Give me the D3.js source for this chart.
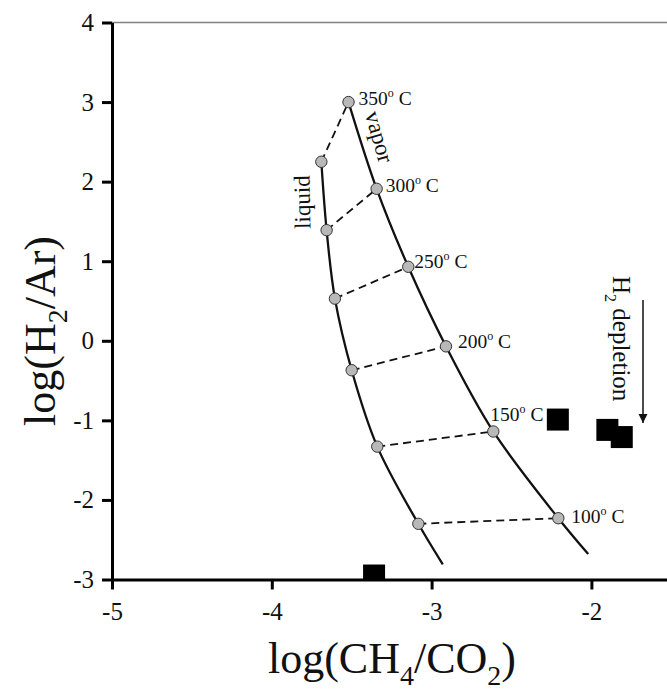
<!DOCTYPE html>
<html>
<head>
<meta charset="utf-8">
<script src="https://cdn.jsdelivr.net/npm/d3@7"></script>
<style>
  body { margin: 0; background: #fff; }
  svg text { font-family: "Liberation Serif", "DejaVu Serif", serif; fill: #111; }
</style>
</head>
<body>
<div class="chart"></div>
<script>
var svgWidth = 667;
var svgHeight = 691;

// liquid branch (log CH4/CO2, log H2/Ar)
var liquidX = [-3.69, -3.657, -3.605, -3.50, -3.34, -3.083, -2.93];
var liquidY = [2.25, 1.39, 0.53, -0.37, -1.33, -2.30, -2.81];
// vapor branch
var vaporX = [-3.52, -3.344, -3.146, -2.91, -2.614, -2.207, -2.02];
var vaporY = [3.0, 1.91, 0.93, -0.07, -1.14, -2.23, -2.68];
// temperatures for the 6 marked points on each branch
var temps = ["350", "300", "250", "200", "150", "100"];

// measured samples
var sampleX = [-2.21, -1.90, -1.81, -3.36];
var sampleY = [-0.99, -1.12, -1.21, -2.95];

var xTicks = [-5, -4, -3, -2];
var yTicks = [-3, -2, -1, 0, 1, 2, 3, 4];

var svg = d3.select(".chart")
  .append("svg")
  .attr("width", svgWidth)
  .attr("height", svgHeight);

var x = d3.scaleLinear().domain([-5, -1.5]).range([112, 671.3]);
var y = d3.scaleLinear().domain([-3, 4]).range([579.5, 22.5]);

// clip for plot area
svg.append("clipPath").attr("id", "plotclip")
  .append("rect")
  .attr("x", x(-5)).attr("y", y(4))
  .attr("width", x(-1.5) - x(-5)).attr("height", y(-3) - y(4));

// top frame line
svg.append("line")
  .attr("x1", x(-5)).attr("x2", x(-1.5))
  .attr("y1", y(4)).attr("y2", y(4))
  .attr("stroke", "#808080")
  .attr("stroke-width", 1.6);

var plot = svg.append("g").attr("clip-path", "url(#plotclip)");

var liquid = liquidX.map((d, i) => [d, liquidY[i]]);
var vapor = vaporX.map((d, i) => [d, vaporY[i]]);

var line = d3.line()
  .x(d => x(d[0]))
  .y(d => y(d[1]))
  .curve(d3.curveCatmullRom);

// dashed tie lines between coexisting phases
temps.forEach(function(t, i) {
  plot.append("line")
    .attr("x1", x(liquid[i][0])).attr("y1", y(liquid[i][1]))
    .attr("x2", x(vapor[i][0])).attr("y2", y(vapor[i][1]))
    .attr("stroke", "#111")
    .attr("stroke-width", 1.8)
    .attr("stroke-dasharray", "8,5");
});

plot.append("path").datum(liquid)
  .attr("d", line)
  .attr("fill", "none")
  .attr("stroke", "#111")
  .attr("stroke-width", 2.3);

plot.append("path").datum(vapor)
  .attr("d", line)
  .attr("fill", "none")
  .attr("stroke", "#111")
  .attr("stroke-width", 2.3);

// markers (only the 6 temperature points)
var marks = liquid.slice(0, 6).concat(vapor.slice(0, 6));
plot.selectAll("circle.pt")
  .data(marks)
  .enter()
  .append("circle")
  .attr("class", "pt")
  .attr("cx", d => x(d[0]))
  .attr("cy", d => y(d[1]))
  .attr("r", 5.7)
  .attr("fill", "#b8b8b8")
  .attr("stroke", "#333")
  .attr("stroke-width", 1);

// sample squares
var sq = 22;
plot.selectAll("rect.sample")
  .data(sampleX.map((d, i) => [d, sampleY[i]]))
  .enter()
  .append("rect")
  .attr("class", "sample")
  .attr("x", d => x(d[0]) - sq / 2)
  .attr("y", d => y(d[1]) - sq / 2)
  .attr("width", sq)
  .attr("height", sq)
  .attr("fill", "#000");

// temperature labels, offsets relative to the vapor point
var labelOffsets = [[10, 3], [9, 3], [6, 1], [12, 2], [-3, -10], [13, 5]];
temps.forEach(function(t, i) {
  var tx = svg.append("text")
    .attr("x", x(vapor[i][0]) + labelOffsets[i][0])
    .attr("y", y(vapor[i][1]) + labelOffsets[i][1])
    .attr("font-size", 19.5);
  tx.append("tspan").text(t);
  tx.append("tspan").attr("font-size", 12).attr("dy", -8).text("o");
  tx.append("tspan").attr("dy", 8).text(" C");
});

// branch names
svg.append("text")
  .attr("transform", "translate(310,202) rotate(-91)")
  .attr("text-anchor", "middle")
  .attr("font-size", 23)
  .text("liquid");

svg.append("text")
  .attr("transform", "translate(372,139) rotate(74)")
  .attr("text-anchor", "middle")
  .attr("font-size", 23)
  .text("vapor");

// H2 depletion annotation
var dep = svg.append("text")
  .attr("transform", "translate(613,276) rotate(90)")
  .attr("font-size", 25);
dep.append("tspan").text("H");
dep.append("tspan").attr("font-size", 16).attr("dy", 8).text("2");
dep.append("tspan").attr("dy", -8).text(" depletion");

svg.append("defs").append("marker")
  .attr("id", "arrow")
  .attr("viewBox", "0 0 10 10")
  .attr("refX", 10).attr("refY", 5)
  .attr("markerUnits", "userSpaceOnUse")
  .attr("markerWidth", 9).attr("markerHeight", 16)
  .attr("orient", "auto")
  .append("path")
  .attr("d", "M0,0 L10,5 L0,10 Z")
  .attr("fill", "#111");

svg.append("line")
  .attr("x1", 643).attr("y1", 300)
  .attr("x2", 643).attr("y2", 423)
  .attr("stroke", "#111")
  .attr("stroke-width", 1.5)
  .attr("marker-end", "url(#arrow)");

// axes
var bottomAxis = d3.axisBottom(x)
  .tickValues(xTicks)
  .tickFormat(d => String(d))
  .tickSize(10)
  .tickSizeOuter(0)
  .tickPadding(13);

var leftAxis = d3.axisLeft(y)
  .tickValues(yTicks)
  .tickFormat(d => String(d))
  .tickSize(10)
  .tickSizeOuter(0)
  .tickPadding(8);

var xAxis = svg.append("g")
  .attr("transform", `translate(0, ${y(-3)})`)
  .call(bottomAxis);

var yAxis = svg.append("g")
  .attr("transform", `translate(${x(-5)}, 0)`)
  .call(leftAxis);

[xAxis, yAxis].forEach(function(g) {
  g.select(".domain").attr("stroke", "#000").attr("stroke-width", 3);
  g.selectAll(".tick line").attr("stroke", "#000").attr("stroke-width", 3);
  g.selectAll(".tick text")
    .attr("font-size", 25)
    .attr("font-family", "Liberation Serif, serif")
    .attr("fill", "#111");
});

// axis titles
var xt = svg.append("text")
  .attr("x", 392)
  .attr("y", 673)
  .attr("text-anchor", "middle")
  .attr("font-size", 44);
xt.append("tspan").text("log(CH");
xt.append("tspan").attr("font-size", 28).attr("dy", 12).text("4");
xt.append("tspan").attr("dy", -12).text("/CO");
xt.append("tspan").attr("font-size", 28).attr("dy", 12).text("2");
xt.append("tspan").attr("dy", -12).text(")");

var yt = svg.append("text")
  .attr("transform", "translate(55,331) rotate(-90)")
  .attr("text-anchor", "middle")
  .attr("font-size", 44);
yt.append("tspan").text("log(H");
yt.append("tspan").attr("font-size", 28).attr("dy", 12).text("2");
yt.append("tspan").attr("dy", -12).text("/Ar)");
</script>
</body>
</html>
